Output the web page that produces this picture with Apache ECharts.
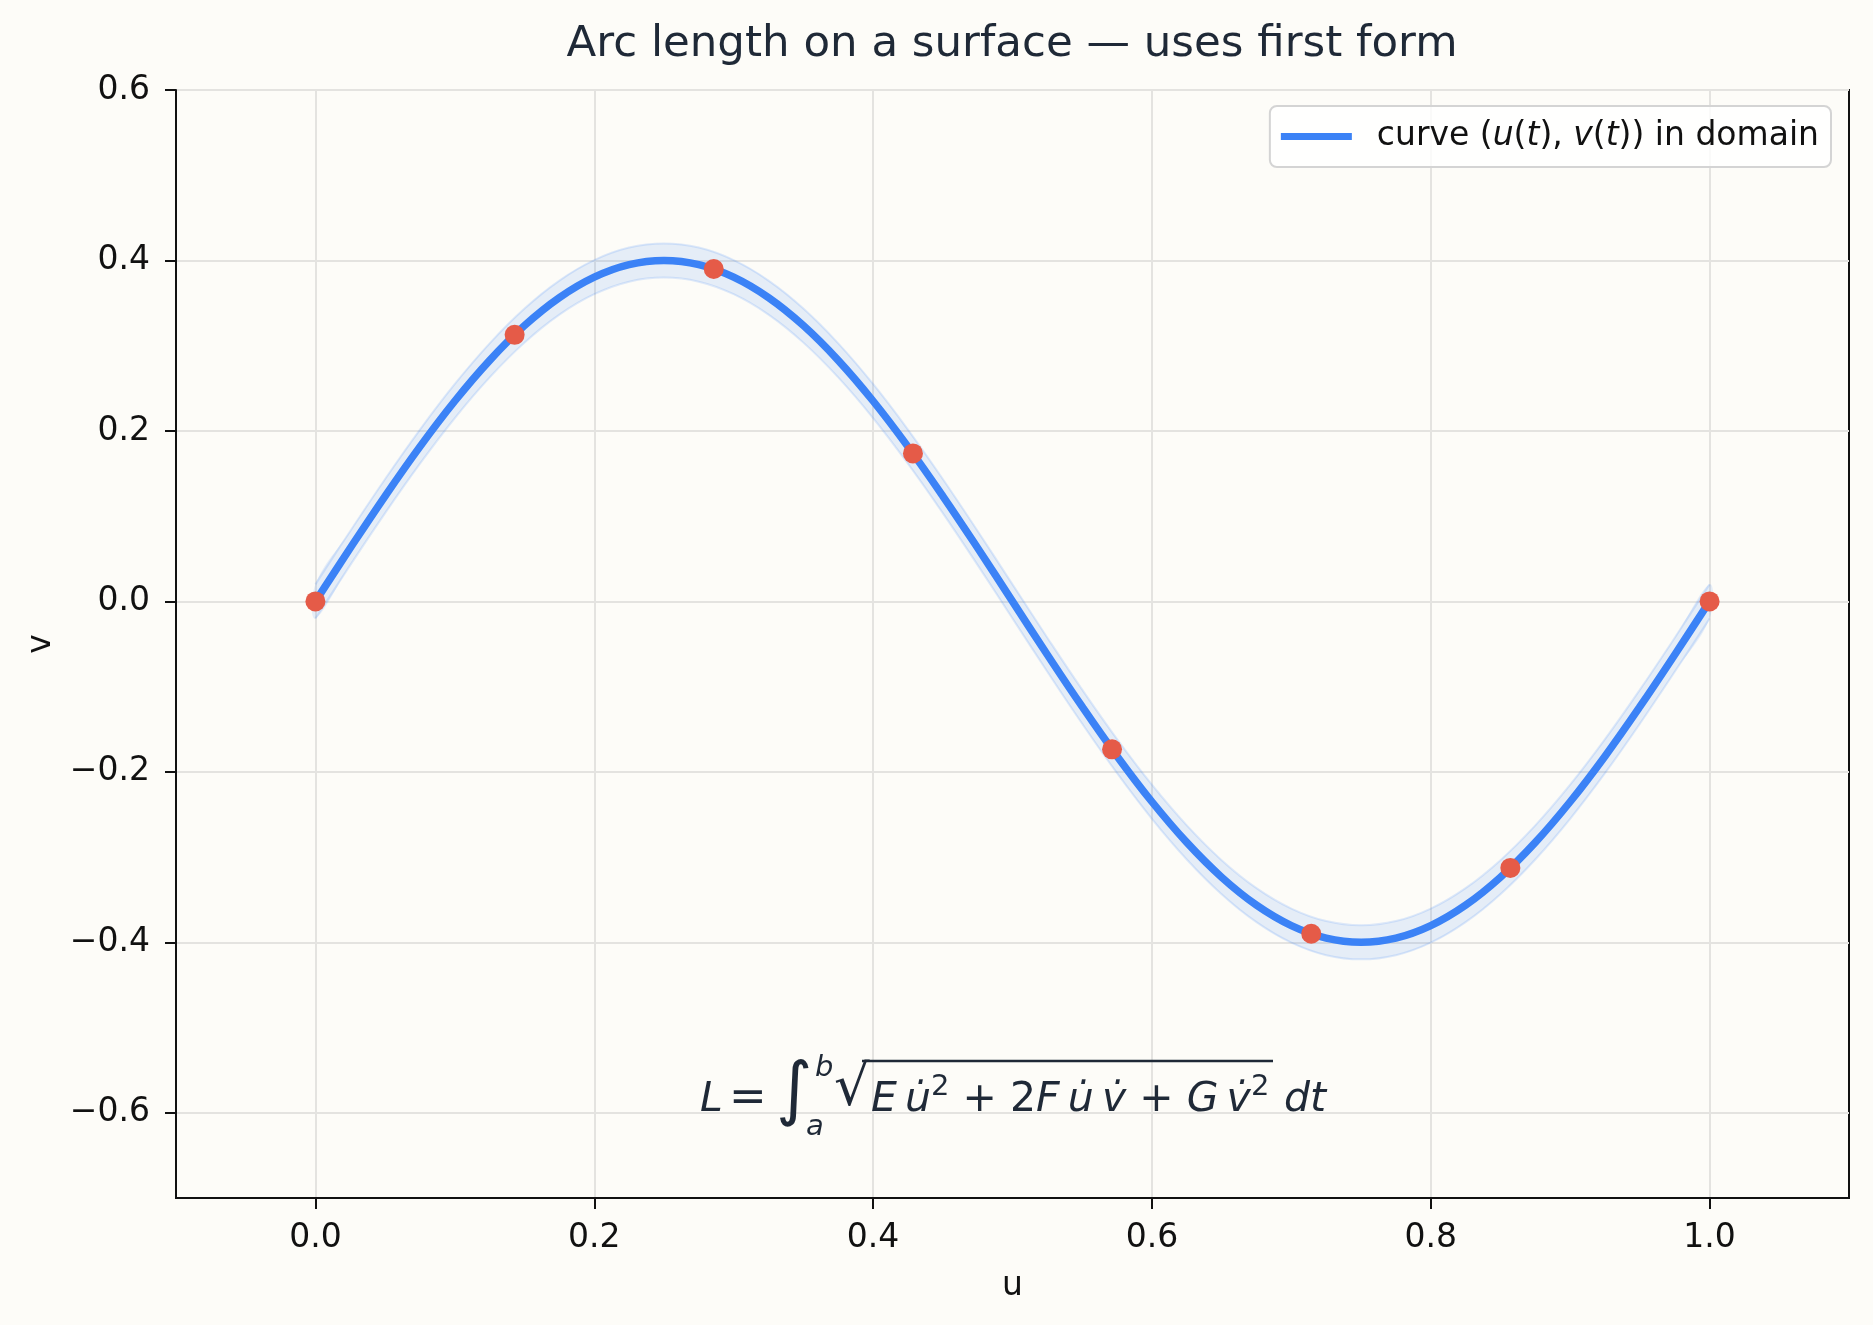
<!DOCTYPE html>
<html>
<head>
<meta charset="utf-8">
<title>Arc length on a surface</title>
<script src="https://cdn.jsdelivr.net/npm/echarts@6/dist/echarts.min.js"></script>
<style>
html, body { margin: 0; padding: 0; background: #fdfcf8; }
#main { width: 1873px; height: 1325px; }
</style>
</head>
<body>
<div id="main"></div>
<script>
// curve (u(t), v(t)) sampled off the plot, u every 0.025
const curveU = [
  0, 0.025, 0.05, 0.075, 0.1, 0.125, 0.15, 0.175, 0.2, 0.225,
  0.25, 0.275, 0.3, 0.325, 0.35, 0.375, 0.4, 0.425, 0.45, 0.475,
  0.5, 0.525, 0.55, 0.575, 0.6, 0.625, 0.65, 0.675, 0.7, 0.725,
  0.75, 0.775, 0.8, 0.825, 0.85, 0.875, 0.9, 0.925, 0.95, 0.975, 1.0
];
const curveV = [
  0, 0.0626, 0.1236, 0.1816, 0.2351, 0.2828, 0.3236, 0.3564, 0.3804, 0.3951,
  0.4, 0.3951, 0.3804, 0.3564, 0.3236, 0.2828, 0.2351, 0.1816, 0.1236, 0.0626,
  0, -0.0626, -0.1236, -0.1816, -0.2351, -0.2828, -0.3236, -0.3564, -0.3804, -0.3951,
  -0.4, -0.3951, -0.3804, -0.3564, -0.3236, -0.2828, -0.2351, -0.1816, -0.1236, -0.0626, 0
];
// red sample points
const pointU = [0, 0.1429, 0.2857, 0.4286, 0.5714, 0.7143, 0.8571, 1.0];
const pointV = [0, 0.3127, 0.39, 0.1736, -0.1736, -0.39, -0.3127, 0];
// half height of the light band around the curve
const bandHalf = 0.02;

const xTicks = [0, 0.2, 0.4, 0.6, 0.8, 1.0];
const yTicks = [-0.6, -0.4, -0.2, 0, 0.2, 0.4, 0.6];

const titleText = 'Arc length on a surface \u2014 uses first form';

const blue = '#3b82f6';
const red = '#e55b48';
const ink = '#1f2937';

const curveData = curveU.map((u, i) => [u, curveV[i]]);
const pointData = pointU.map((u, i) => [u, pointV[i]]);

const fmt = (v) => v.toFixed(1).replace('-', '\u2212');

let myChart = echarts.init(document.getElementById('main'));
let option = {
  backgroundColor: '#fdfcf8',
  animation: false,
  textStyle: { fontFamily: 'DejaVu Sans' },
  title: {
    text: titleText,
    left: 1007,
    textAlign: 'center',
    top: 15,
    textStyle: { fontSize: 43.5, fontWeight: 'normal', color: ink, fontFamily: 'DejaVu Sans', lineHeight: 50 }
  },
  legend: {
    right: 42,
    top: 106,
    data: [{ name: 'curve', icon: 'rect' }],
    itemWidth: 71,
    itemHeight: 7,
    padding: [14, 12, 14, 11],
    backgroundColor: 'rgba(255,255,255,0.8)',
    borderColor: '#d4d4d4',
    borderWidth: 2,
    borderRadius: 7,
    formatter: () => 'curve ({i|u}({i|t}), {i|v}({i|t})) in domain',
    textStyle: {
      fontSize: 33,
      color: '#111',
      fontFamily: 'DejaVu Sans',
      padding: [0, 0, 0, 20],
      rich: {
        i: { fontSize: 33, fontStyle: 'italic', color: '#111', fontFamily: 'DejaVu Sans' }
      }
    }
  },
  grid: {
    left: 176,
    right: 24,
    top: 90,
    bottom: 127,
    show: true,
    borderColor: '#111',
    borderWidth: 2,
    backgroundColor: '#fdfcf8'
  },
  xAxis: {
    type: 'value',
    min: -0.1,
    max: 1.1,
    splitNumber: 6,
    name: 'u',
    nameLocation: 'middle',
    nameGap: 72,
    nameTextStyle: { fontSize: 33, color: '#111' },
    axisLine: { show: true, onZero: false, lineStyle: { color: '#111', width: 2 } },
    axisTick: { show: true, length: 11, lineStyle: { color: '#111', width: 2 }, customValues: xTicks },
    axisLabel: { fontSize: 33, color: '#111', margin: 24, formatter: fmt, customValues: xTicks },
    splitLine: { show: true, lineStyle: { color: '#e4e3e0', width: 2 } }
  },
  yAxis: {
    type: 'value',
    min: -0.7,
    max: 0.6,
    splitNumber: 6,
    name: 'v',
    nameLocation: 'middle',
    nameGap: 118,
    nameRotate: 90,
    nameTextStyle: { fontSize: 33, color: '#111' },
    axisLine: { show: true, onZero: false, lineStyle: { color: '#111', width: 2 } },
    axisTick: { show: true, length: 11, lineStyle: { color: '#111', width: 2 }, customValues: yTicks },
    axisLabel: { fontSize: 33, color: '#111', margin: 26, formatter: fmt, customValues: yTicks },
    splitLine: { show: true, lineStyle: { color: '#e4e3e0', width: 2 } }
  },
  series: [
    {
      // light band: curve +/- bandHalf
      name: 'band',
      type: 'custom',
      data: [[0, 0]],
      z: 1,
      silent: true,
      renderItem: function (params, api) {
        const upper = curveU.map((u, i) => api.coord([u, curveV[i] + bandHalf]));
        const lower = curveU.map((u, i) => api.coord([u, curveV[i] - bandHalf]));
        return {
          type: 'group',
          children: [
            {
              type: 'polygon',
              shape: { points: upper.concat(lower.slice().reverse()), smooth: 0.4 },
              style: { fill: 'rgba(59,130,246,0.12)', stroke: 'none' }
            },
            {
              type: 'polyline',
              shape: { points: upper, smooth: 0.4 },
              style: { stroke: 'rgba(59,130,246,0.16)', lineWidth: 2, fill: 'none' }
            },
            {
              type: 'polyline',
              shape: { points: lower, smooth: 0.4 },
              style: { stroke: 'rgba(59,130,246,0.16)', lineWidth: 2, fill: 'none' }
            }
          ]
        };
      }
    },
    {
      name: 'curve',
      type: 'line',
      data: curveData,
      symbol: 'none',
      smooth: 0.4,
      z: 3,
      color: blue,
      lineStyle: { color: blue, width: 7.5, join: 'round' }
    },
    {
      name: 'points',
      type: 'scatter',
      data: pointData,
      symbol: 'circle',
      symbolSize: 20,
      z: 4,
      itemStyle: { color: red, opacity: 1 }
    }
  ],
  graphic: [
    { type: 'text', x: 700, y: 1100, z: 10, style: { text: 'L', fontSize: 41, fontStyle: 'italic', fontFamily: 'DejaVu Sans', fill: ink, verticalAlign: 'middle' } },
    { type: 'text', x: 729, y: 1099, z: 10, style: { text: '=', fontSize: 45, fontFamily: 'DejaVu Sans', fill: ink, verticalAlign: 'middle' } },
    { type: 'text', x: 776, y: 1094, z: 10, style: { text: '\u222B', fontSize: 70, fontFamily: 'DejaVu Sans', fill: ink, verticalAlign: 'middle' } },
    { type: 'text', x: 815, y: 1068, z: 10, style: { text: 'b', fontSize: 29, fontStyle: 'italic', fontFamily: 'DejaVu Sans', fill: ink, verticalAlign: 'middle' } },
    { type: 'text', x: 806, y: 1127, z: 10, style: { text: 'a', fontSize: 29, fontStyle: 'italic', fontFamily: 'DejaVu Sans', fill: ink, verticalAlign: 'middle' } },
    { type: 'text', x: 834, y: 1090, z: 10, style: { text: '\u221A', fontSize: 56, fontFamily: 'DejaVu Sans', fill: ink, verticalAlign: 'middle' } },
    { type: 'line', z: 10, shape: { x1: 862, y1: 1061, x2: 1273, y2: 1061 }, style: { stroke: ink, lineWidth: 2.5 } },
    {
      type: 'text', x: 871, y: 1100, z: 10,
      style: {
        text: '{i|E}\u2009{i|u\u0307}{s|2} + 2{i|F}\u2009{i|u\u0307}\u2009{i|v\u0307} + {i|G}\u2009{i|v\u0307}{s|2}',
        fontSize: 41, fontFamily: 'DejaVu Sans', fill: ink, verticalAlign: 'middle',
        rich: {
          i: { fontSize: 41, fontStyle: 'italic', fontFamily: 'DejaVu Sans', fill: ink },
          s: { fontSize: 29, fontFamily: 'DejaVu Sans', fill: ink, padding: [0, 0, 26, 0] }
        }
      }
    },
    { type: 'text', x: 1284, y: 1100, z: 10, style: { text: 'dt', fontSize: 41, fontStyle: 'italic', fontFamily: 'DejaVu Sans', fill: ink, verticalAlign: 'middle' } }
  ]
};
option && myChart.setOption(option);
window.addEventListener('resize', function () {
  myChart.resize();
});
</script>
</body>
</html>
